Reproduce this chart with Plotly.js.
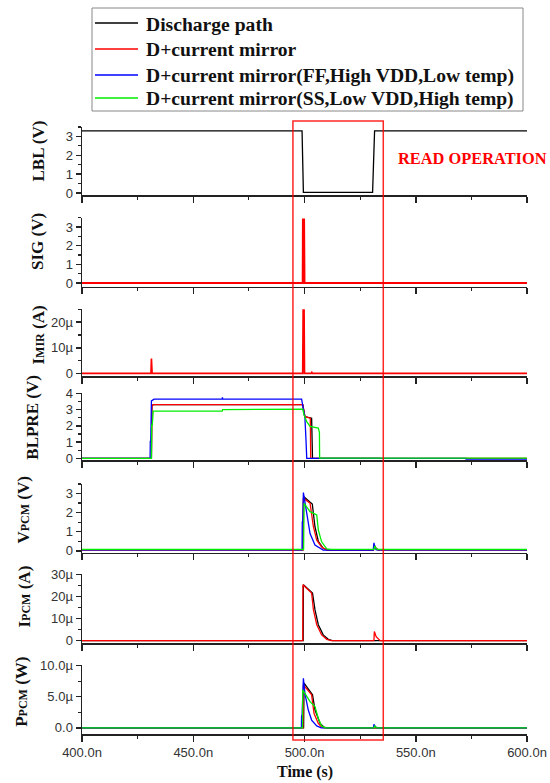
<!DOCTYPE html>
<html>
<head>
<meta charset="utf-8">
<script src="https://cdn.plot.ly/plotly-3.0.1.min.js"></script>
<style>html,body{margin:0;padding:0;background:#fff;}#plot{width:550px;height:783px;}</style>
</head>
<body>
<div id="plot"></div>
<script>
// ---------------- DATA (time in ns) ----------------
const seriesNames = ["Discharge path", "D+current mirror", "D+current mirror(FF,High VDD,Low temp)", "D+current mirror(SS,Low VDD,High temp)"];
const seriesColors = ["#000000", "#ff0000", "#0000ff", "#00ee00"];

const xTickVals = [400, 450, 500, 550, 600];
const xTickText = ["400.0n", "450.0n", "500.0n", "550.0n", "600.0n"];

// LBL (V)
const lbl_t_black = [400, 498.9, 499.5, 530.6, 531.0, 531.5, 600];
const lbl_v_black = [3.3, 3.3, 0.04, 0.04, 1.5, 3.3, 3.3];

// SIG (V)
const sig_t_red = [400, 499.2, 499.3, 499.8, 500.0, 600];
const sig_v_red = [0, 0, 3.4, 3.4, 0, 0];

// IMIR (µA)
const imir_t_red = [400, 431.0, 431.2, 431.5, 499.2, 499.4, 499.8, 500.0, 503.0, 503.3, 503.6, 600];
const imir_v_red = [0, 0, 5.8, 0, 0, 24.8, 24.8, 0, 0, 0.4, 0, 0];

// BLPRE (V)
const blpre_t_black = [400, 431.2, 431.4, 432.0, 499.2, 500.2, 503.2, 503.6, 534.0];
const blpre_v_black = [0, 0, 3.2, 3.31, 3.31, 2.56, 2.47, 0, 0];
const blpre_t_red = [400, 431.2, 431.4, 432.0, 499.2, 500.2, 502.6, 502.8, 600];
const blpre_v_red = [0, 0, 3.2, 3.31, 3.31, 2.56, 2.47, 0, 0];
const blpre_t_blue = [400, 430.6, 430.7, 430.9, 431.2, 432.4, 463.0, 463.1, 463.3, 498.7, 499.5, 500.2, 500.7, 501.0, 572.5, 572.6, 600];
const blpre_v_blue = [0, 0, 1.05, 1.05, 3.53, 3.64, 3.64, 3.75, 3.64, 3.64, 2.97, 2.47, 1.05, 0, 0, -0.05, -0.05];
const blpre_t_green = [400, 431.2, 431.3, 431.6, 432.0, 463.0, 463.2, 499.2, 499.8, 501.0, 502.5, 506.2, 506.7, 506.8, 600];
const blpre_v_green = [0, 0, 2.06, 2.06, 2.9, 2.9, 3.0, 3.03, 2.67, 2.26, 1.96, 1.86, 1.6, 0.02, 0.02];

// VPCM (V)
const vpcm_t_black = [400, 499.4, 499.6, 503.5, 504.7, 506.2, 508.4, 510.5, 531.0, 531.3, 532.0, 533.0, 600];
const vpcm_v_black = [0.05, 0.05, 2.84, 2.45, 1.26, 0.5, 0.13, 0.04, 0.04, 0.3, 0.15, 0.05, 0.05];
const vpcm_t_red = [400, 499.3, 499.5, 502.5, 504.0, 505.5, 507.7, 510.0, 531.0, 531.3, 532.0, 533.0, 600];
const vpcm_v_red = [0.05, 0.05, 2.76, 2.49, 1.26, 0.56, 0.2, 0.04, 0.04, 0.3, 0.15, 0.05, 0.05];
const vpcm_t_blue = [400, 498.9, 499.0, 499.2, 499.5, 501.0, 502.5, 504.7, 508.4, 530.9, 531.2, 531.6, 532.2, 600];
const vpcm_v_blue = [0.05, 0.05, 1.5, 1.5, 3.05, 1.97, 0.9, 0.3, 0.04, 0.04, 0.42, 0.2, 0.05, 0.05];
const vpcm_t_green = [400, 499.6, 499.8, 502.5, 505.5, 506.2, 507.7, 510.0, 512.0, 531.2, 531.6, 532.3, 533.0, 600];
const vpcm_v_green = [0.07, 0.07, 2.49, 2.05, 1.88, 1.09, 0.47, 0.1, 0.07, 0.07, 0.25, 0.1, 0.07, 0.07];

// IPCM (µA)
const ipcm_t_black = [400, 499.4, 499.5, 503.6, 504.7, 506.2, 508.4, 510.7, 512.5, 600];
const ipcm_v_black = [0, 0, 25.3, 21.5, 14, 7.2, 2.6, 0.6, 0, 0];
const ipcm_t_red = [400, 499.2, 499.3, 503.2, 504.0, 505.5, 507.7, 510.0, 512.0, 531.2, 531.4, 532.2, 534.0, 600];
const ipcm_v_red = [0, 0, 25.3, 21.5, 14, 7.2, 2.6, 0.6, 0, 0, 4.1, 1.8, 0, 0];

// PPCM (µW)
const ppcm_t_black = [400, 499.6, 499.8, 503.6, 504.7, 507.0, 508.8, 510.0, 600];
const ppcm_v_black = [0, 0, 7.2, 5.3, 2.9, 0.7, 0.1, 0, 0];
const ppcm_t_red = [400, 499.3, 499.5, 503.2, 504.3, 506.2, 507.7, 509.0, 600];
const ppcm_v_red = [0, 0, 6.9, 5.3, 2.3, 0.7, 0.1, 0, 0];
const ppcm_t_blue = [400, 498.6, 498.7, 498.9, 499.5, 500.2, 501.7, 503.2, 505.5, 507.5, 531.0, 531.2, 531.8, 532.5, 600];
const ppcm_v_blue = [0, 0, 1.9, 1.9, 7.96, 5.5, 2.85, 1.24, 0.3, 0, 0, 0.55, 0.2, 0, 0];
const ppcm_t_green = [400, 499.1, 499.2, 502.5, 504.7, 506.2, 507.7, 509.4, 531.2, 531.6, 532.3, 600];
const ppcm_v_green = [0, 0, 6.1, 4.2, 3.4, 1.5, 0.3, 0, 0, 0.3, 0, 0];

// Y axis labels / ticks
const yTitles = ["LBL (V)", "SIG (V)", "I<span style=\"font-size:12px\">MIR</span> (A)", "BLPRE (V)",
                 "V<span style=\"font-size:12px\">PCM</span> (V)", "I<span style=\"font-size:12px\">PCM</span> (A)", "P<span style=\"font-size:12px\">PCM</span> (W)"];
const yTickVals = [[0,1,2,3],[0,1,2,3],[0,10,20],[0,1,2,3,4],[0,1,2,3],[0,10,20,30],[0,5,10]];
const yTickText = [["0","1","2","3"],["0","1","2","3"],["0","10µ","20µ"],["0","1","2","3","4"],["0","1","2","3"],["0","10µ","20µ","30µ"],["0.0","5.0µ","10.0µ"]];
const yRanges = [[-0.1,3.5],[-0.2,3.5],[-1,25],[-0.1,4],[-0.1,3.5],[-1.2,30],[-1,10.1]];
const yMinor = [0.5,0.5,5,0.5,0.5,5,2.5];

const readWindow = [494.8, 535.4];
const readLabel = "READ OPERATION";

// ---------------- LAYOUT GEOMETRY (pixels) ----------------
const W = 550, H = 783;
const plotLeft = 82, plotRight = 527;
const panelPx = [[127,195],[217.7,286.7],[309.3,376],[393.3,460],[484,552.7],[574.3,643.3],[665,734]];
const titlePos = [[37.5,151],[37.5,241.5],[37.5,335],[31.7,417],[23.5,510],[23.5,597],[20.8,692]];
const legendBox = {x0: 92, x1: 523, y0: 8, y1: 111};
const legendRowsY = [23, 49, 75, 98];
const fx = p => p / W;
const fy = p => 1 - p / H;

const traces = [];
function addLine(panel, t, v, series, width) {
  const ax = panel === 0 ? "" : String(panel + 1);
  traces.push({
    type: "scatter", mode: "lines", x: t, y: v,
    xaxis: "x" + ax, yaxis: "y" + ax,
    name: seriesNames[series], showlegend: false,
    line: {color: seriesColors[series], width: width || 1.3},
    hoverinfo: "skip"
  });
}
addLine(0, lbl_t_black, lbl_v_black, 0);
addLine(1, sig_t_red, sig_v_red, 1, 2);
addLine(2, imir_t_red, imir_v_red, 1, 1.7);
addLine(3, blpre_t_black, blpre_v_black, 0);
addLine(3, blpre_t_red, blpre_v_red, 1);
addLine(3, blpre_t_blue, blpre_v_blue, 2);
addLine(3, blpre_t_green, blpre_v_green, 3);
addLine(4, vpcm_t_black, vpcm_v_black, 0);
addLine(4, vpcm_t_red, vpcm_v_red, 1);
addLine(4, vpcm_t_blue, vpcm_v_blue, 2);
addLine(4, vpcm_t_green, vpcm_v_green, 3);
addLine(5, ipcm_t_black, ipcm_v_black, 0);
addLine(5, ipcm_t_red, ipcm_v_red, 1);
addLine(6, ppcm_t_black, ppcm_v_black, 0);
addLine(6, ppcm_t_red, ppcm_v_red, 1);
addLine(6, ppcm_t_blue, ppcm_v_blue, 2);
addLine(6, ppcm_t_green, ppcm_v_green, 3);

const tickFont = {family: "Liberation Sans, Arial, sans-serif", size: 13, color: "#333"};
const serifBold = (size, color) => ({family: "Liberation Serif, Times New Roman, serif", size: size, color: color || "#111", weight: "bold"});

const layout = {
  width: W, height: H,
  margin: {l: 0, r: 0, t: 0, b: 0, pad: 0},
  paper_bgcolor: "#fff", plot_bgcolor: "rgba(0,0,0,0)",
  showlegend: false,
  annotations: [],
  shapes: [{
    type: "rect", xref: "x7", yref: "paper",
    x0: readWindow[0], x1: readWindow[1], y0: fy(740), y1: fy(121),
    line: {color: "rgba(255,0,0,0.85)", width: 1.5}, fillcolor: "rgba(0,0,0,0)", layer: "above"
  }, {
    type: "rect", xref: "paper", yref: "paper",
    x0: fx(legendBox.x0), x1: fx(legendBox.x1), y0: fy(legendBox.y1), y1: fy(legendBox.y0),
    line: {color: "#888", width: 1}, fillcolor: "#fff", layer: "above"
  }]
};

// legend (drawn as shapes + text)
for (let s = 0; s < seriesNames.length; s++) {
  layout.shapes.push({
    type: "line", xref: "paper", yref: "paper",
    x0: fx(95), x1: fx(138), y0: fy(legendRowsY[s]), y1: fy(legendRowsY[s]),
    line: {color: seriesColors[s], width: 1.5}, layer: "above"
  });
  layout.annotations.push({
    xref: "paper", yref: "paper", x: fx(144), y: fy(legendRowsY[s] + 1),
    xanchor: "left", yanchor: "middle", showarrow: false,
    text: seriesNames[s], font: serifBold(19.6, "#111")
  });
}

for (let i = 0; i < 7; i++) {
  const ax = i === 0 ? "" : String(i + 1);
  layout["xaxis" + ax] = {
    domain: [fx(plotLeft), fx(plotRight)], anchor: "y" + ax, range: [400, 600],
    showline: true, linecolor: "#222", linewidth: 1.5, mirror: false,
    ticks: "outside", ticklen: 6, tickwidth: 1.5, tickcolor: "#222",
    tickvals: xTickVals, ticktext: xTickText, showticklabels: i === 6,
    tickfont: tickFont, showgrid: false, zeroline: false,
    minor: {dtick: 25, tick0: 400, ticks: "outside", ticklen: 3, tickwidth: 1.2, tickcolor: "#222", showgrid: false}
  };
  layout["yaxis" + ax] = {
    domain: [fy(panelPx[i][1]), fy(panelPx[i][0])], anchor: "x" + ax, range: yRanges[i],
    showline: true, linecolor: "#222", linewidth: 1.5, mirror: false,
    ticks: "outside", ticklen: 5, tickwidth: 1.5, tickcolor: "#222",
    tickvals: yTickVals[i], ticktext: yTickText[i], tickfont: tickFont,
    showgrid: false, zeroline: false,
    minor: {dtick: yMinor[i], tick0: 0, ticks: "outside", ticklen: 3, tickwidth: 1.2, tickcolor: "#222", showgrid: false}
  };
  layout.annotations.push({
    xref: "paper", yref: "paper", x: fx(titlePos[i][0]), y: fy(titlePos[i][1]),
    xanchor: "center", yanchor: "middle", textangle: -90, showarrow: false,
    text: yTitles[i], font: serifBold(17, "#111")
  });
}
layout.annotations.push({
  xref: "paper", yref: "paper", x: fx(396), y: fy(158), xanchor: "left", yanchor: "middle",
  showarrow: false, text: readLabel, font: serifBold(16.4, "#ff0000")
});
layout.annotations.push({
  xref: "paper", yref: "paper", x: fx(304.5), y: fy(772), xanchor: "center", yanchor: "middle",
  showarrow: false, text: "Time (s)", font: serifBold(16, "#111")
});

Plotly.newPlot("plot", traces, layout, {staticPlot: true, displayModeBar: false});
</script>
</body>
</html>
